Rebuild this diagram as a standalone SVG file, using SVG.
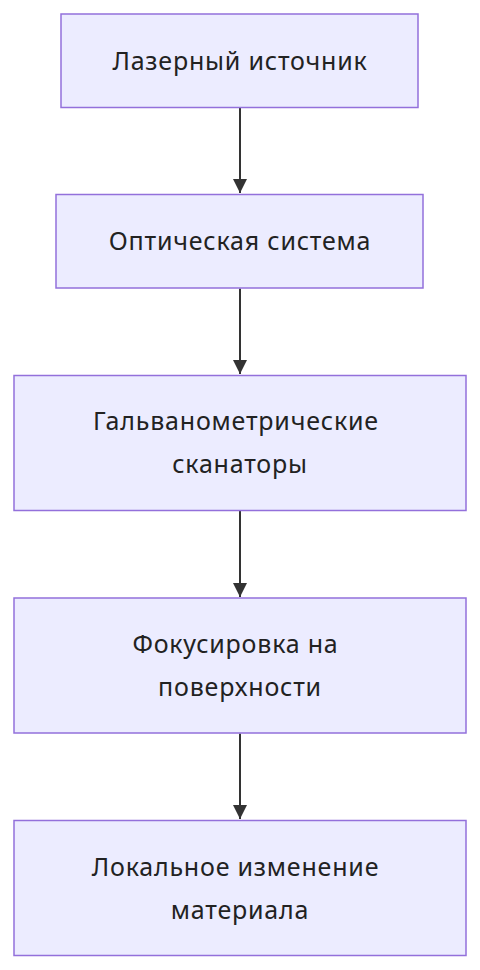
<svg xmlns="http://www.w3.org/2000/svg" width="480" height="970" viewBox="0 0 480 970">
<style>
.node rect{fill:#ECECFF;stroke:#9370DB;stroke-width:1.5px}
.node text{font-family:"Noto Sans","Open Sans",sans-serif;font-size:25px;letter-spacing:0.8px;fill:#222;text-anchor:middle}
.edge{stroke:#333;stroke-width:2;fill:none}
</style>
<defs>
<marker id="arr" viewBox="0 0 10 10" refX="10" refY="5" markerWidth="7" markerHeight="7" markerUnits="strokeWidth" orient="auto">
<path d="M0,0 L10,5 L0,10 z" fill="#333"/>
</marker>
</defs>
<rect width="480" height="970" fill="#fff"/>
<g id="connectors">
<path class="edge" d="M240,107.5 L240,193" marker-end="url(#arr)"/>
<path class="edge" d="M240,288.5 L240,374" marker-end="url(#arr)"/>
<path class="edge" d="M240,510.5 L240,597" marker-end="url(#arr)"/>
<path class="edge" d="M240,733.5 L240,819" marker-end="url(#arr)"/>
</g>
<g id="n1" class="node"><rect x="61" y="14" width="357" height="93.5"/><text x="240" y="70">Лазерный источник</text></g>
<g id="n2" class="node"><rect x="56" y="194.5" width="367" height="93.5"/><text x="240" y="250">Оптическая система</text></g>
<g id="n3" class="node"><rect x="14" y="375.5" width="452" height="135"/><text x="236" y="430">Гальванометрические</text><text x="240" y="473">сканаторы</text></g>
<g id="n4" class="node"><rect x="14" y="598" width="452" height="135"/><text x="235.5" y="653">Фокусировка на</text><text x="240" y="696">поверхности</text></g>
<g id="n5" class="node"><rect x="14" y="820.5" width="452" height="135"/><text x="235.5" y="876">Локальное изменение</text><text x="240" y="919">материала</text></g>
</svg>
